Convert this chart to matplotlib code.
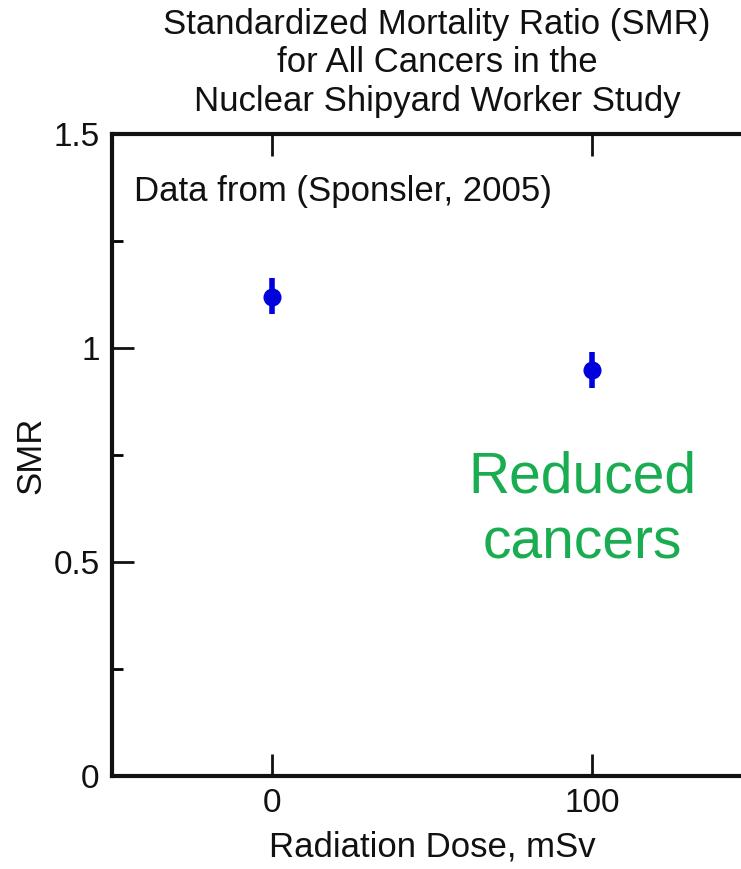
import matplotlib
matplotlib.use('Agg')
import matplotlib.pyplot as plt
from matplotlib.ticker import MultipleLocator

plt.rcParams['font.family'] = ['Liberation Sans', 'DejaVu Sans']

# 데이터
dose = [0, 100]
smr = [1.12, 0.948]
err_lo = [0.04, 0.042]
err_hi = [0.043, 0.042]

fig = plt.figure(figsize=(7.41, 8.69), dpi=100)
fig.patch.set_facecolor('white')
ax = fig.add_axes([112 / 741, 93 / 869, 640 / 741, 642 / 869])

ax.errorbar(dose, smr, yerr=[err_lo, err_hi], fmt='o', color='#0000dd',
            ms=12, elinewidth=4, capsize=0, zorder=3)

ax.set_xlim(-50, 150)
ax.set_ylim(0, 1.5)
ax.set_xticks([0, 100])
ax.set_yticks([0, 0.5, 1, 1.5])
ax.set_yticklabels(['0', '0.5', '1', '1.5'])
ax.yaxis.set_minor_locator(MultipleLocator(0.25))
ax.tick_params(which='major', direction='in', length=16, width=2, labelsize=24,
               top=True, color='#111111', labelcolor='#111111')
ax.tick_params(axis='y', which='major', pad=9)
ax.tick_params(axis='x', which='major', pad=9)
ax.tick_params(which='minor', direction='in', length=8, width=2, left=True)
ax.tick_params(axis='x', which='minor', bottom=False, top=False)
for s in ax.spines.values():
    s.set_linewidth(3)
    s.set_color('#111111')

ax.set_xlabel('Radiation Dose, mSv', fontsize=25, labelpad=8, color='#111111')
ax.set_ylabel('SMR', fontsize=25, labelpad=4, color='#111111')

fig.text(437 / 741, 1 - 63 / 869,
         'Standardized Mortality Ratio (SMR)\nfor All Cancers in the\nNuclear Shipyard Worker Study',
         ha='center', va='center', fontsize=25, linespacing=1.23, color='#111111')

ax.text(-43, 1.365, 'Data from (Sponsler, 2005)', fontsize=25, ha='left', va='center',
        color='#111111')
ax.text(97, 0.62, 'Reduced\ncancers', fontsize=41, ha='center', va='center',
        color='#1aac50', linespacing=1.3)

fig.savefig('out.png', dpi=100, facecolor='white')
